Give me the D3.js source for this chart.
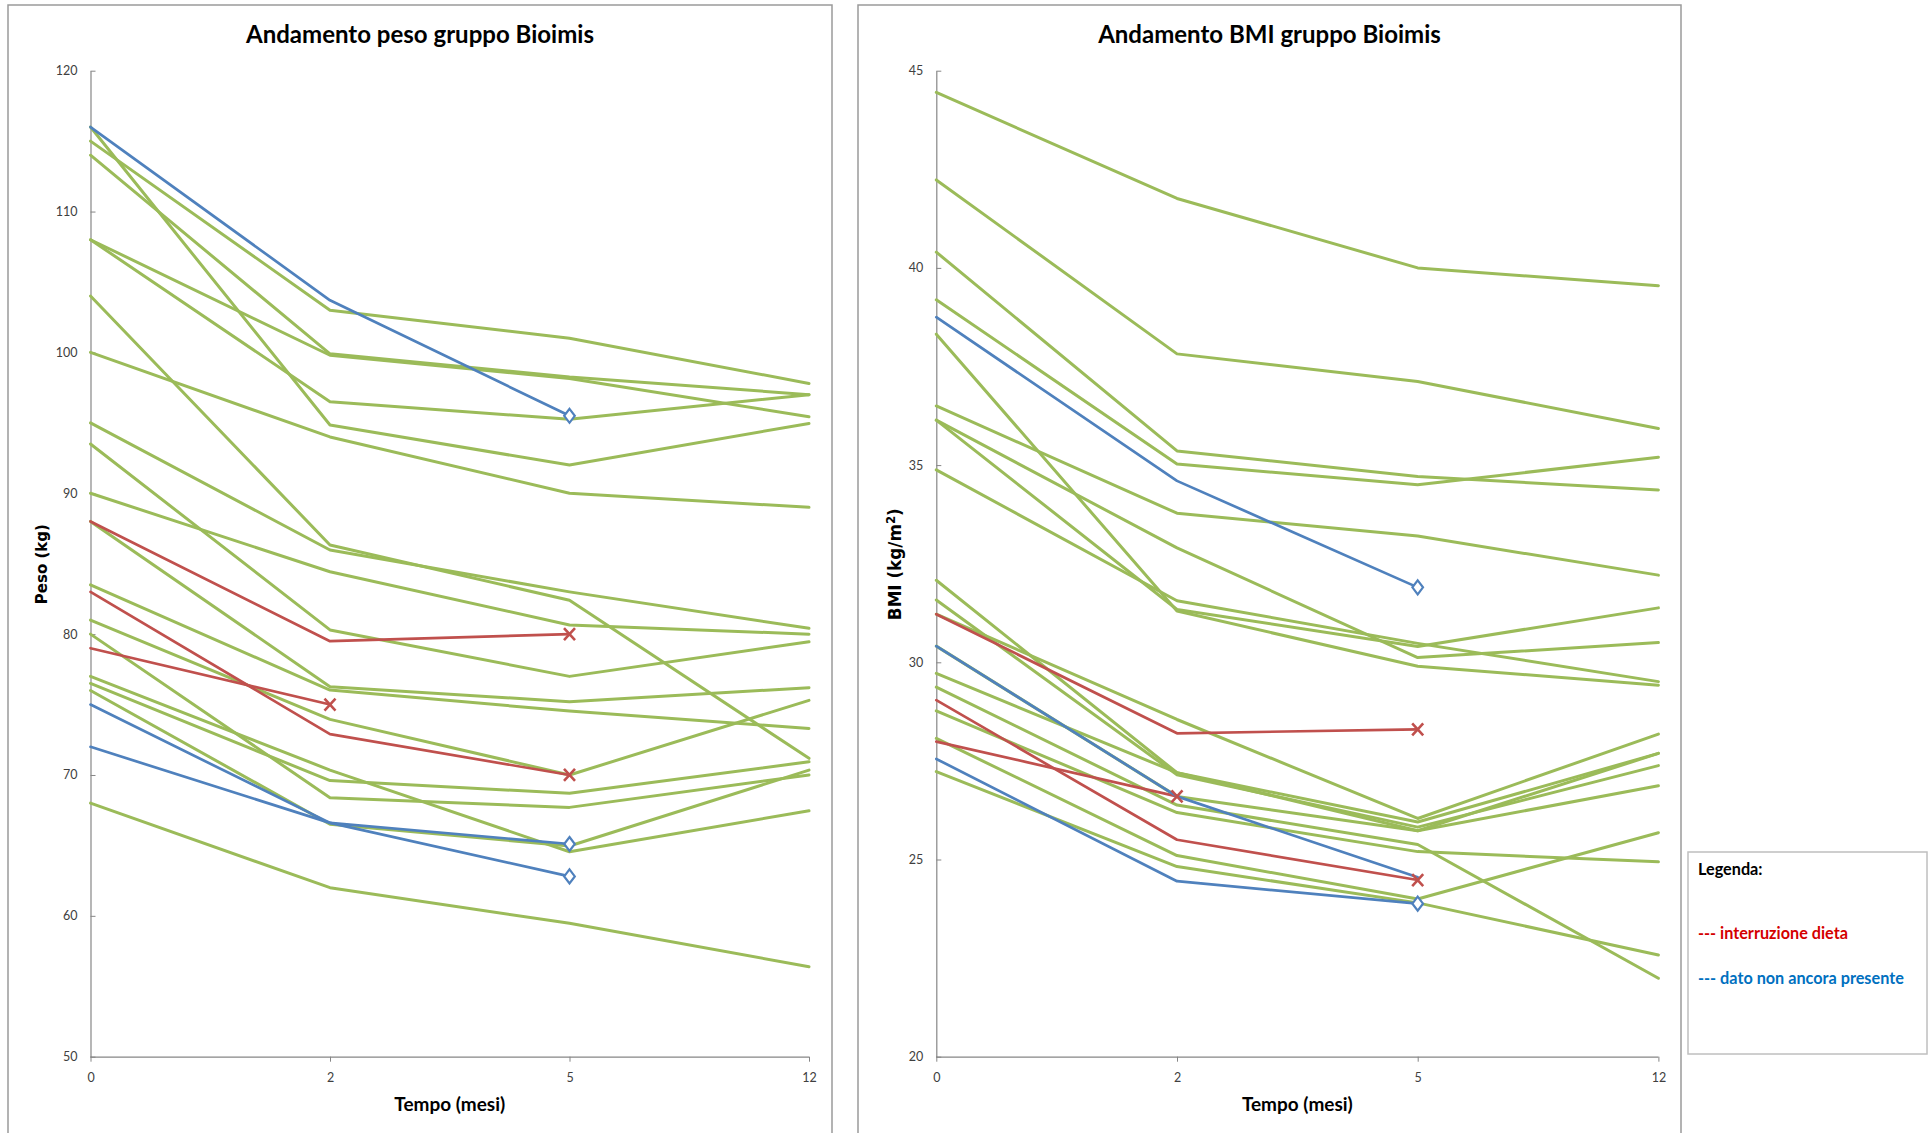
<!DOCTYPE html>
<html>
<head>
<meta charset="utf-8">
<title>Andamento peso e BMI gruppo Bioimis</title>
<script src="https://cdn.jsdelivr.net/npm/d3@7"></script>
<style>
  html, body { margin: 0; padding: 0; background: #ffffff; }
  svg { display: block; }
</style>
</head>
<body>
<svg id="chart" width="1930" height="1133"></svg>
<script>
// Controlli (mesi dall'inizio della dieta)
const mesi = ["0", "2", "5", "12"];

// Tacche degli assi verticali
const pesoTicks = [50, 60, 70, 80, 90, 100, 110, 120];
const bmiTicks = [20, 25, 30, 35, 40, 45];

// Peso (kg) – pazienti che proseguono la dieta
const pesoDieta = [
  [116, 94.85, 92.0, 94.96],
  [115, 103.0, 101.0, 97.8],
  [114, 99.9, 98.25, 97.0],
  [108, 99.8, 98.15, 95.43],
  [108, 96.5, 95.25, 97.0],
  [104, 86.33, 82.4, 71.18],
  [100, 94.0, 90.0, 89.0],
  [95, 85.97, 83.0, 80.41],
  [93.5, 80.3, 77.0, 79.46],
  [90, 84.43, 80.65, 80.0],
  [88, 76.27, 75.2, 76.2],
  [83.5, 76.03, 74.54, 73.3],
  [81, 73.95, 70.0, 75.3],
  [80, 68.39, 67.7, 70.0],
  [77, 70.35, 64.55, 67.46],
  [76.5, 69.6, 68.7, 70.94],
  [76, 66.5, 64.96, 70.35],
  [68, 62.0, 59.47, 56.39]
];
// Peso (kg) – interruzione dieta
const pesoInterruzione = [
  [88, 79.5, 80.0],
  [83, 72.9, 70.0],
  [79, 75.0]
];
// Peso (kg) – dato non ancora presente
const pesoIncompleto = [
  [116, 103.7, 95.5],
  [75, 66.6, 65.1],
  [72, 66.6, 62.8]
];

// BMI (kg/m²) – pazienti che proseguono la dieta
const bmiDieta = [
  [44.45, 41.76, 40.0, 39.55],
  [42.23, 37.82, 37.12, 35.93],
  [40.40, 35.36, 34.71, 34.37],
  [39.19, 35.03, 34.5, 35.2],
  [38.32, 31.3, 29.9, 29.42],
  [36.50, 33.78, 33.2, 32.21],
  [36.14, 32.9, 30.12, 30.5],
  [36.14, 31.34, 30.4, 31.38],
  [34.88, 31.56, 30.48, 29.51],
  [32.08, 27.2, 25.95, 27.69],
  [31.58, 27.15, 25.82, 27.38],
  [31.22, 28.55, 26.04, 28.18],
  [30.41, 26.6, 25.73, 26.87],
  [29.72, 27.2, 25.73, 27.69],
  [29.37, 26.38, 25.38, 21.99],
  [28.77, 26.19, 25.2, 24.94],
  [28.07, 25.1, 24.0, 25.68],
  [27.23, 24.82, 23.9, 22.58]
];
// BMI – interruzione dieta
const bmiInterruzione = [
  [31.22, 28.2, 28.3],
  [29.04, 25.5, 24.48],
  [27.99, 26.6]
];
// BMI – dato non ancora presente
const bmiIncompleto = [
  [38.75, 34.6, 31.9],
  [30.41, 26.6, 24.55],
  [27.55, 24.45, 23.88]
];

const COLORS = { dieta: "#9bbb59", interruzione: "#c0504d", incompleto: "#4f81bd", axis: "#868686" };
const svg = d3.select("#chart");

// Resize a text element so that it spans the given width
function fitWidth(sel, width) {
  const w = sel.node().getComputedTextLength();
  const fs = parseFloat(sel.attr("font-size"));
  sel.attr("font-size", (fs * width / w).toFixed(2));
  return fs * width / w;
}

function drawPanel(cfg) {
  const g = svg.append("g");

  g.append("rect")
    .attr("x", cfg.frame[0]).attr("y", cfg.frame[1])
    .attr("width", cfg.frame[2]).attr("height", cfg.frame[3])
    .attr("fill", "#fff").attr("stroke", "#9a9a9a").attr("stroke-width", 1.5);

  const x = d3.scalePoint().domain(mesi).range([cfg.left, cfg.right]);
  const y = d3.scaleLinear().domain(cfg.domain).range([cfg.bottom, cfg.top]);

  // assi
  const yAxis = g.append("g")
    .attr("transform", `translate(${cfg.left},0)`)
    .call(d3.axisLeft(y).tickValues(cfg.ticks).tickSizeInner(-5).tickSizeOuter(0).tickPadding(13));
  const xAxis = g.append("g")
    .attr("transform", `translate(0,${cfg.bottom})`)
    .call(d3.axisBottom(x).tickSizeInner(5).tickSizeOuter(0).tickPadding(11));
  [yAxis, xAxis].forEach(a => {
    a.attr("font-family", "Lato, 'Noto Sans', sans-serif").attr("font-size", 12.5);
    a.select(".domain").attr("stroke", COLORS.axis).attr("stroke-width", 1.2);
    a.selectAll(".tick line").attr("stroke", COLORS.axis).attr("stroke-width", 1);
    a.selectAll(".tick text").attr("fill", "#404040");
  });
  xAxis.select(".domain").attr("d", `M${cfg.left},0.5H${cfg.right}`);

  // linee
  const line = d3.line().x((d, i) => x(mesi[i])).y(d => y(d));
  const drawGroup = (data, color, width) => {
    g.append("g").selectAll("path").data(data).join("path")
      .attr("d", line).attr("fill", "none")
      .attr("stroke", color).attr("stroke-width", width)
      .attr("stroke-linejoin", "round").attr("stroke-linecap", "round");
  };
  drawGroup(cfg.dieta, COLORS.dieta, 3);
  drawGroup(cfg.interruzione, COLORS.interruzione, 2.7);
  drawGroup(cfg.incompleto, COLORS.incompleto, 2.7);

  // indicatori finali
  const lastPoint = s => [x(mesi[s.length - 1]), y(s[s.length - 1]), s.length - 1, s[s.length - 1]];
  const crossEnds = cfg.interruzione.map(lastPoint);
  cfg.incompleto.map(lastPoint)
    .filter(p => !crossEnds.some(c => c[2] === p[2] && Math.abs(c[3] - p[3]) < 0.3))
    .forEach(p => {
      g.append("path")
        .attr("d", `M${p[0]},${p[1] - 7}L${p[0] + 5.3},${p[1]}L${p[0]},${p[1] + 7}L${p[0] - 5.3},${p[1]}Z`)
        .attr("fill", "#fff").attr("stroke", COLORS.incompleto).attr("stroke-width", 2.2);
    });
  crossEnds.forEach(p => {
    g.append("path")
      .attr("d", `M${p[0] - 5.5},${p[1] - 6}L${p[0] + 5.5},${p[1] + 6}M${p[0] + 5.5},${p[1] - 6}L${p[0] - 5.5},${p[1] + 6}`)
      .attr("fill", "none").attr("stroke", COLORS.interruzione).attr("stroke-width", 2.6);
  });

  // titoli
  const title = g.append("text")
    .attr("x", cfg.titleX).attr("y", 42.7).attr("text-anchor", "middle")
    .attr("font-family", "Lato, 'Noto Sans', sans-serif").attr("font-weight", 700)
    .attr("font-size", cfg.titleSize).attr("fill", "#000").text(cfg.title);

  const xt = g.append("text")
    .attr("x", (cfg.left + cfg.right) / 2).attr("y", 1111).attr("text-anchor", "middle")
    .attr("font-family", "Lato, 'Noto Sans', sans-serif").attr("font-weight", 700)
    .attr("font-size", 18).attr("fill", "#000").text("Tempo (mesi)");
  fitWidth(xt, 111);

  const yt = g.append("text")
    .attr("transform", `translate(${cfg.yTitleX},${(cfg.top + cfg.bottom) / 2 + 0.5}) rotate(-90)`)
    .attr("text-anchor", "middle")
    .attr("font-family", "'DejaVu Sans', Verdana, sans-serif").attr("font-weight", 700)
    .attr("font-size", 14).attr("fill", "#000");
  cfg.yTitle(yt);
  fitWidth(yt, cfg.yTitleLen);
  return title;
}

const left = drawPanel({
  frame: [8, 5, 824, 1140], left: 90.5, right: 809, top: 70.7, bottom: 1056.7,
  domain: [50, 120], ticks: pesoTicks,
  dieta: pesoDieta, interruzione: pesoInterruzione, incompleto: pesoIncompleto,
  title: "Andamento peso gruppo Bioimis", titleX: 420, titleSize: 24,
  yTitleX: 46.6, yTitleLen: 80,
  yTitle: t => t.text("Peso (kg)")
});
const titleSize = fitWidth(left, 348);

const right = drawPanel({
  frame: [858, 5, 823, 1140], left: 936.3, right: 1658.4, top: 70.7, bottom: 1056.7,
  domain: [20, 45], ticks: bmiTicks,
  dieta: bmiDieta, interruzione: bmiInterruzione, incompleto: bmiIncompleto,
  title: "Andamento BMI gruppo Bioimis", titleX: 1269.5, titleSize: titleSize,
  yTitleX: 900.5, yTitleLen: 112,
  yTitle: t => {
    t.append("tspan").text("BMI (kg/m");
    t.append("tspan").attr("dy", -6).attr("font-size", "70%").text("2");
    t.append("tspan").attr("dy", 6).text(")");
  }
});

// legenda
const leg = svg.append("g");
leg.append("rect").attr("x", 1688).attr("y", 852).attr("width", 239).attr("height", 202)
  .attr("fill", "#fff").attr("stroke", "#bfbfbf").attr("stroke-width", 1.5);
const legItems = [
  { text: "Legenda:", color: "#000000", y: 875 },
  { text: "--- interruzione dieta", color: "#d40000", y: 938.5 },
  { text: "--- dato non ancora presente", color: "#0070c0", y: 984 }
];
const legTexts = leg.selectAll("text").data(legItems).join("text")
  .attr("x", 1698).attr("y", d => d.y)
  .attr("font-family", "Lato, 'Noto Sans', sans-serif").attr("font-weight", 700)
  .attr("font-size", 15).attr("fill", d => d.color).text(d => d.text);
const legSize = fitWidth(d3.select(legTexts.nodes()[2]), 206);
legTexts.attr("font-size", legSize.toFixed(2));
</script>
</body>
</html>
